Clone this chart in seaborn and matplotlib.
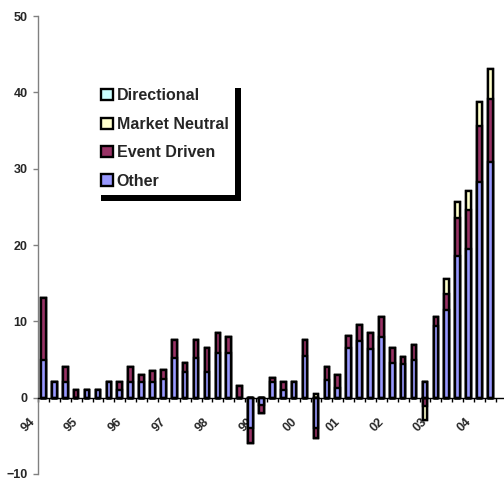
import numpy as np
import pandas as pd
import matplotlib
matplotlib.use("Agg")
import matplotlib.pyplot as plt
import matplotlib.transforms as mtransforms
from matplotlib.patches import Patch, Rectangle
import seaborn as sns

# Quarterly flows, 1994 Q1 .. 2004 Q2, by strategy group
quarters = list(range(42))
other = [5, 2, 2, 0, 1, 1, 2, 1, 2, 2,
         2, 2.4, 5.2, 3.4, 5.2, 3.4, 5.8, 5.8, 0, -4,
         -1, 2, 1, 2, 5.4, -4, 2.3, 1.3, 6.5, 7.4,
         6.4, 7.9, 4.6, 4.4, 4.9, 2.1, 9.4, 11.5, 18.5, 19.5,
         28.2, 30.9]
event_driven = [8, 0, 2, 1, 0, 0, 0, 1, 2, 1,
                1.5, 1.2, 2.3, 1.2, 2.3, 3.1, 2.7, 2.2, 1.5, -2,
                -1, 0.6, 1, 0, 2.1, -1.3, 1.7, 1.7, 1.6, 2.1,
                2.1, 2.7, 1.9, 0.9, 2.0, -1.1, 1.2, 2.1, 5.0, 5.1,
                7.4, 8.2]
market_neutral = [0, 0, 0, 0, 0, 0, 0, 0, 0, 0,
                  0, 0, 0, 0, 0, 0, 0, 0, 0, 0,
                  0, 0, 0, 0, 0, 0.5, 0, 0, 0, 0,
                  0, 0, 0, 0, 0, -1.8, 0, 2.0, 2.1, 2.5,
                  3.1, 4.0]
directional = [0] * 42

year_ticks = [0, 4, 8, 12, 16, 20, 24, 28, 32, 36, 40]
year_labels = ["94", "95", "96", "97", "98", "99", "00", "01", "02", "03", "04"]

series_names = ["Other", "Event Driven", "Market Neutral", "Directional"]
series_values = [other, event_driven, market_neutral, directional]
series_colors = ["#9999FF", "#993366", "#FFFFCC", "#CCFFFF"]

sns.set_style("white")
plt.rcParams["font.family"] = ["Liberation Sans", "DejaVu Sans"]
plt.rcParams["font.weight"] = "bold"

fig = plt.figure(figsize=(5.04, 4.83), dpi=100)
ax = fig.add_axes([38 / 504, 9 / 483, 466 / 504, 458 / 483])

# cumulative positive and negative stacks (positives build up, negatives down)
vals = np.array(series_values, dtype=float)
pos_cum = np.cumsum(np.clip(vals, 0, None), axis=0)
neg_cum = np.cumsum(np.clip(vals, None, 0), axis=0)

bar_kw = dict(width=0.42, saturation=1, edgecolor="black", linewidth=1.7,
              errorbar=None, ax=ax)
# draw from the top layer down so each lower layer overlays the one above
for k in reversed(range(len(series_names))):
    df = pd.DataFrame({"q": quarters, "pos": pos_cum[k], "neg": neg_cum[k]})
    sns.barplot(data=df, x="q", y="pos", color=series_colors[k], **bar_kw)
    sns.barplot(data=df, x="q", y="neg", color=series_colors[k], **bar_kw)

ax.set_xlabel("")
ax.set_ylabel("")
ax.set_xlim(-0.5, 42.25)
ax.set_ylim(-10, 50)
ax.set_axisbelow(True)

for s in ("top", "right"):
    ax.spines[s].set_visible(False)
ax.spines["bottom"].set_position(("data", 0))
ax.spines["bottom"].set_color("black")
ax.spines["bottom"].set_linewidth(1.0)
ax.spines["left"].set_color("#808080")
ax.spines["left"].set_linewidth(1.0)

ax.set_yticks([-10, 0, 10, 20, 30, 40, 50])
ax.tick_params(axis="y", left=True, direction="out", length=3.5, width=1,
               color="#808080", pad=4, labelsize=9)

ax.set_xticks(year_ticks)
ax.set_xticklabels(year_labels, rotation=45, ha="right", fontsize=9,
                   fontweight="bold")
ax.set_xticks(np.arange(-0.5, 42, 1), minor=True)
ax.tick_params(axis="x", which="major", bottom=True, length=0, pad=13)
ax.tick_params(axis="x", which="minor", bottom=True, direction="out",
               length=3, width=1, color="black")
shift = mtransforms.ScaledTranslation(-0.06, 0, fig.dpi_scale_trans)
for lab in ax.get_xticklabels():
    lab.set_transform(lab.get_transform() + shift)
for lab in ax.get_yticklabels():
    lab.set_fontweight("bold")

handles = [Patch(facecolor=series_colors[k], edgecolor="black", linewidth=1.7,
                 label=series_names[k]) for k in reversed(range(4))]
leg = ax.legend(handles=handles, loc="upper left",
                bbox_to_anchor=((95 - 38) / 466, 1 - (82 - 16) / 458),
                borderaxespad=0, frameon=True, fancybox=False, framealpha=1,
                facecolor="white", edgecolor="none",
                prop={"size": 11.5, "weight": "bold"},
                handlelength=0.7, handleheight=0.7, handletextpad=0.25,
                labelspacing=0.84, borderpad=0.4)
leg.set_zorder(5)

fig.canvas.draw()
bb = leg.get_window_extent()
off = 6
shadow = Rectangle((bb.x0 + off, bb.y0 - off), bb.width, bb.height,
                   transform=mtransforms.IdentityTransform(),
                   facecolor="black", edgecolor="none", zorder=4.9,
                   clip_on=False)
ax.add_artist(shadow)

fig.savefig("out.png", dpi=100)
